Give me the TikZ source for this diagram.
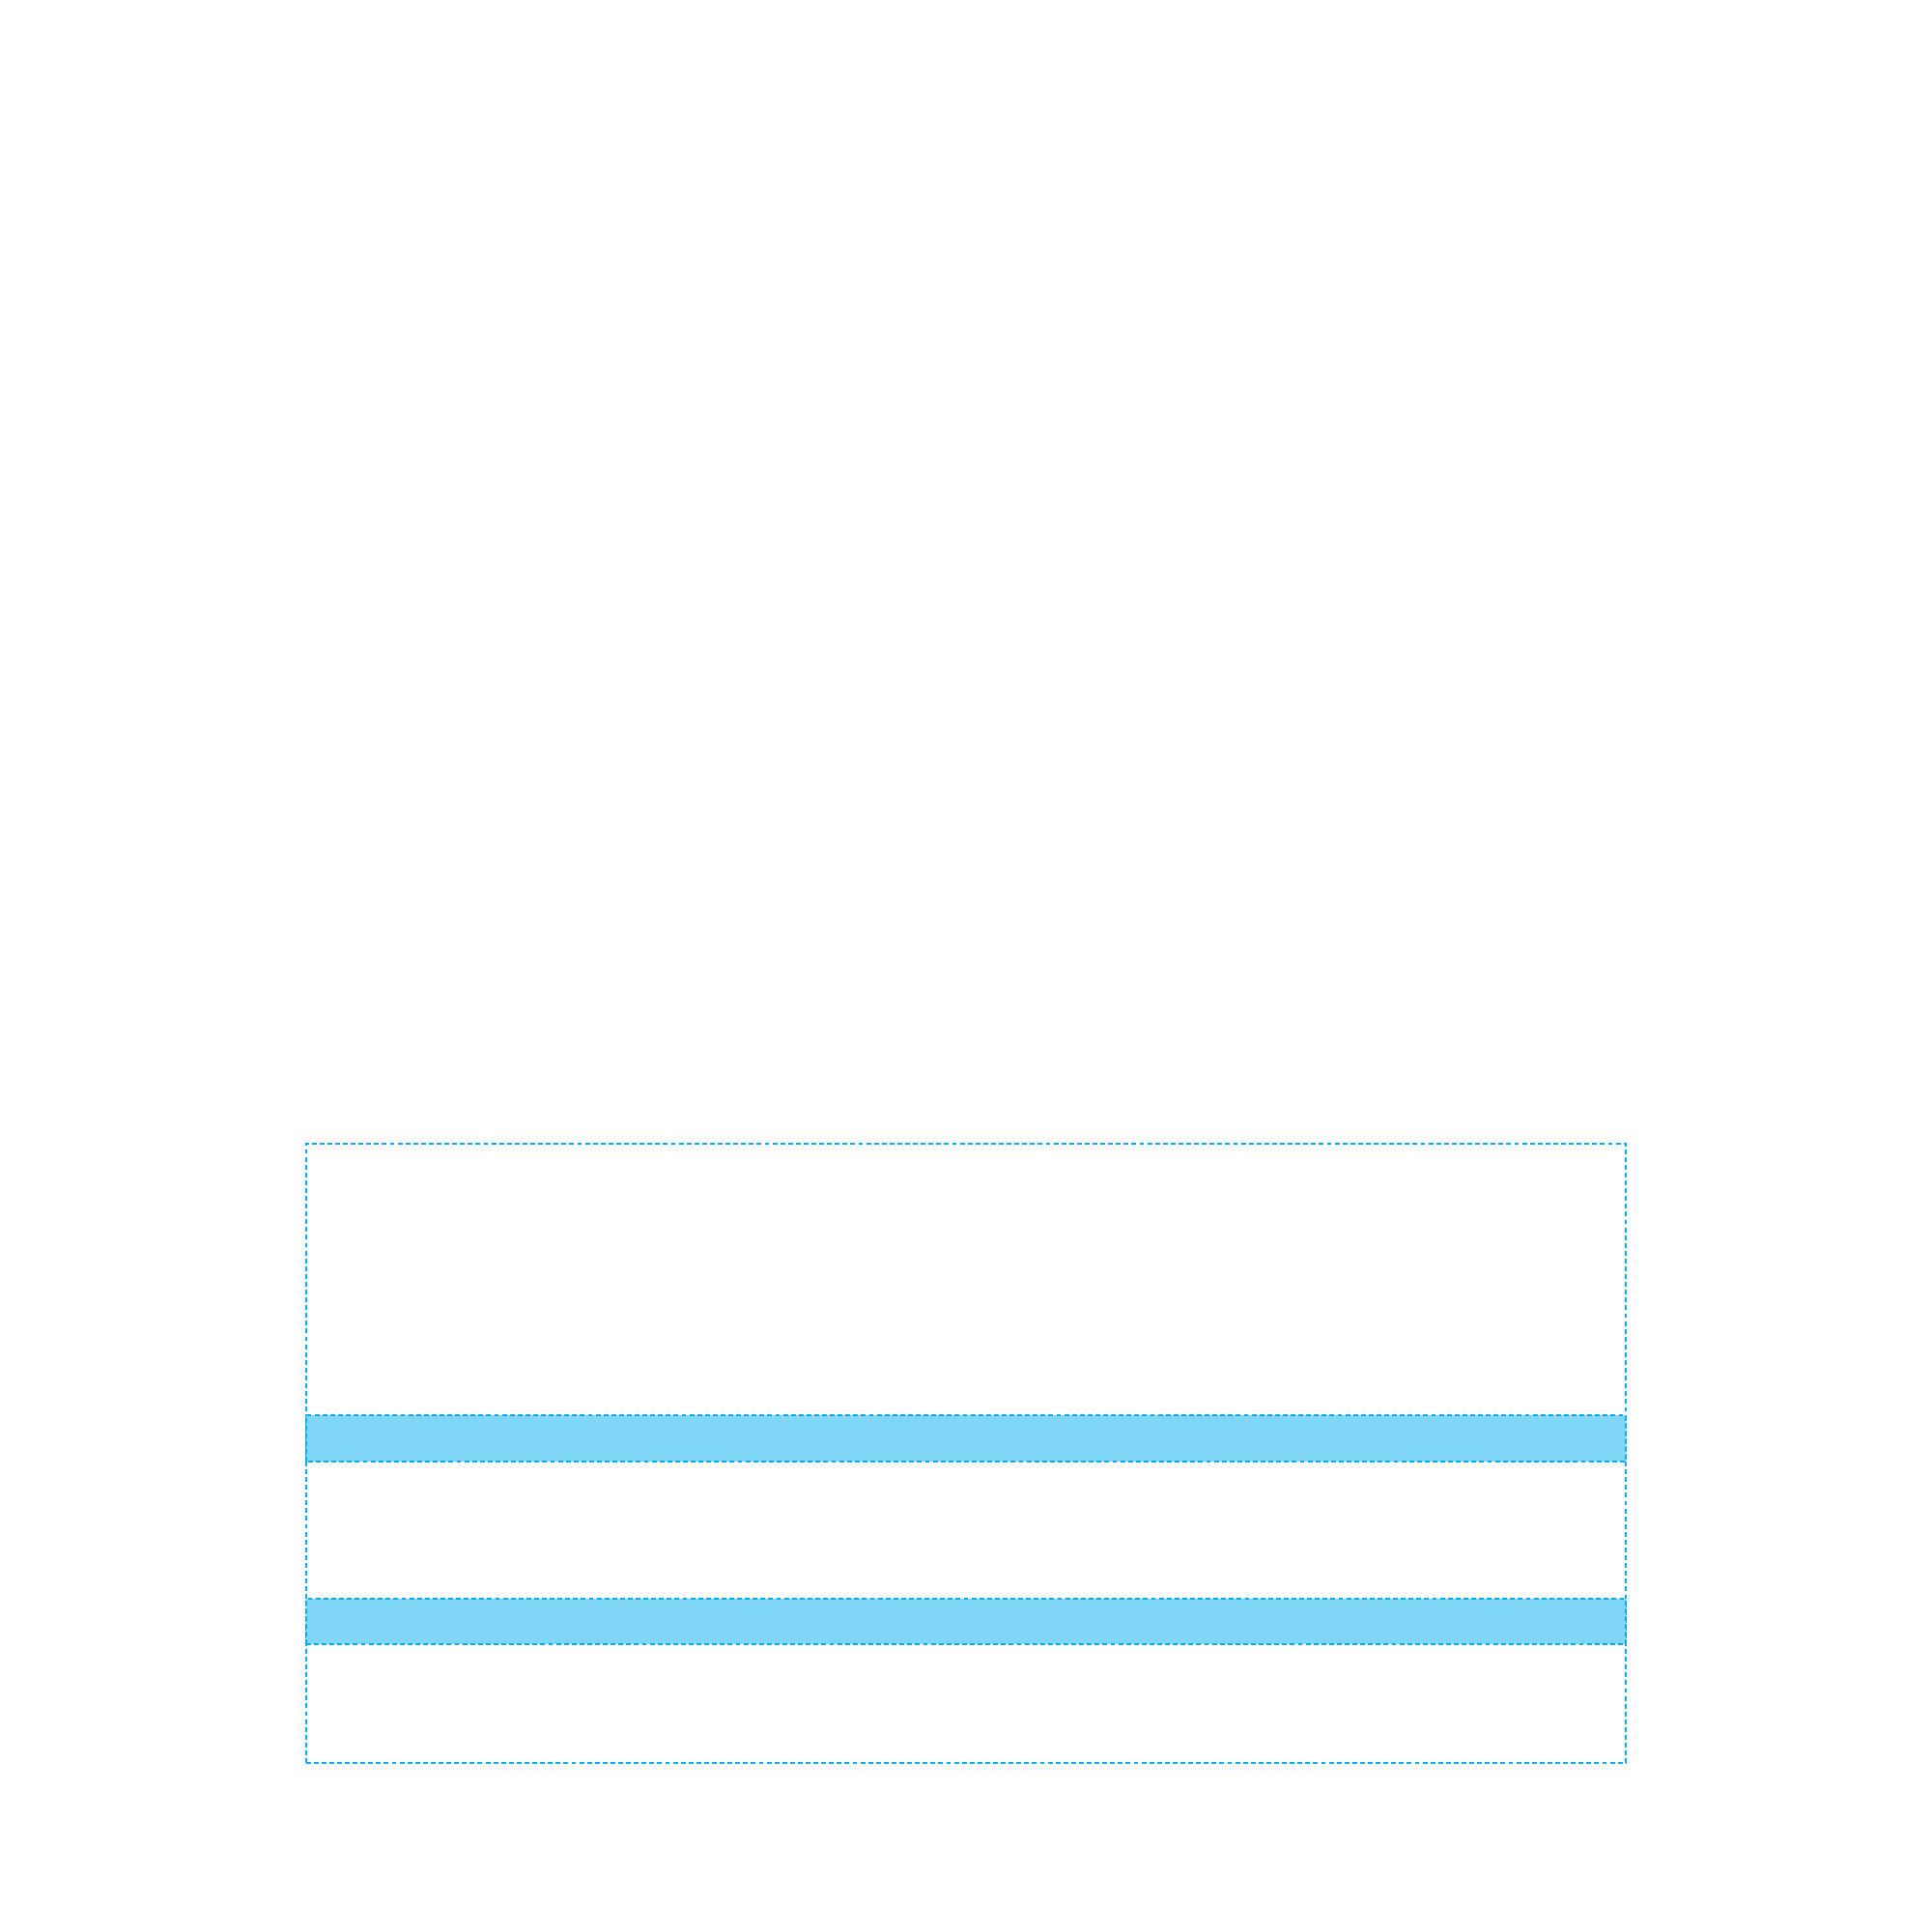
\documentclass[tikz,border=0pt]{standalone}
\usepackage{tikz}
\definecolor{bandline}{RGB}{0,174,239}
\definecolor{bandfill}{RGB}{128,214,247}
\tikzstyle{frame}=[draw=bandline,line width=0.55pt,dash pattern=on 1.4pt off 0.9pt]
\tikzstyle{band}=[frame,fill=bandfill]

\begin{document}
\begin{tikzpicture}
  \useasboundingbox (0,0) rectangle (20,20);
  \draw[frame] (3.17,1.75) rectangle (16.83,8.16);
  \draw[band] (3.17,4.87) rectangle (16.83,5.35);
  \draw[band] (3.17,2.98) rectangle (16.83,3.45);
\end{tikzpicture}
\end{document}
